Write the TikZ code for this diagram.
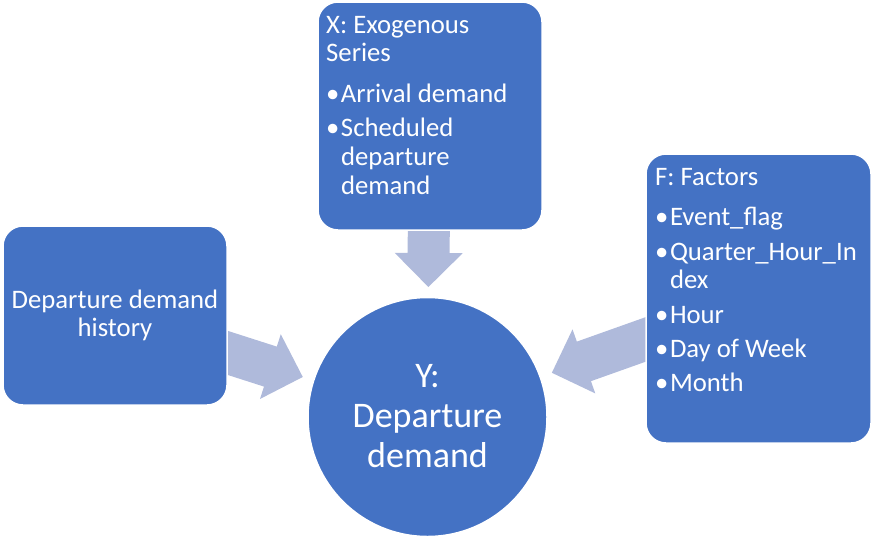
\documentclass[tikz,border=0pt]{standalone}
\usepackage{fontspec}
\setmainfont{Carlito}
\usetikzlibrary{calc,backgrounds}
\definecolor{boxblue}{HTML}{4472C4}
\definecolor{arrowblue}{HTML}{AFBADB}
\newcommand\bul{•\hspace{1.5pt}}
\newcommand\hang{\phantom{\bul}}
\newcommand\blockarrow[2]{%
  \coordinate (#2b) at ($(#2)!34pt!(#1)$);
  \fill[flowfill] ($(#1)!21pt!90:(#2)$) -- ($(#2b)!21pt!90:(#2)$) -- ($(#2b)!34pt!90:(#2)$)
    -- (#2) -- ($(#2b)!34pt!-90:(#2)$) -- ($(#2b)!21pt!-90:(#2)$) -- ($(#1)!21pt!-90:(#2)$) -- cycle;}
\begin{document}
\begin{tikzpicture}[x=1pt,y=-1pt,
  panel/.style={fill=boxblue, draw=white, line width=1.5pt, rounded corners=20pt, inner sep=0pt},
  txt/.style={text=white, inner sep=0pt, anchor=base west, font=\fontsize{26.7}{28.8}\selectfont},
  flowfill/.style={fill=arrowblue}]
\useasboundingbox (0,0) rectangle (872,536);
% boxes
\node[panel, minimum width=224pt, minimum height=228pt] (X) at (430,116) {};
\node[panel, minimum width=224pt, minimum height=179pt] (H) at (115,315.5) {};
\node[panel, minimum width=225pt, minimum height=289pt] (F) at (758.5,298.5) {};
\node[circle, fill=boxblue, draw=white, line width=1.5pt, minimum size=239pt, inner sep=0pt] (Y) at (427.5,417) {};
% texts
\node[txt] (Xt) at (326,33) {\begin{tabular}[t]{@{}l@{}}X: Exogenous\\Series\\[12pt]\bul Arrival demand\\[5.5pt]\bul Scheduled\\\hang departure\\\hang demand\end{tabular}};
\node[txt] (Ft) at (655,185) {\begin{tabular}[t]{@{}l@{}}F: Factors\\[12pt]\bul Event\_flag\\[5.5pt]\bul Quarter\_Hour\_In\\\hang dex\\[5.5pt]\bul Hour\\[5.5pt]\bul Day of Week\\[5.5pt]\bul Month\end{tabular}};
\node[txt, anchor=base] (Ht) at (115,308) {\begin{tabular}[t]{@{}c@{}}Departure demand\\history\end{tabular}};
\node[txt, anchor=base, font=\fontsize{36}{40}\selectfont] (Yt) at (427.5,387) {\begin{tabular}[t]{@{}c@{}}Y:\\Departure\\demand\end{tabular}};
% arrows
\begin{pgfonlayer}{background}
\coordinate (xs) at (429,200);
\coordinate (ls) at (200,344);
\coordinate (rs) at (680,327.2);
\coordinate (xt) at ($(Y.center)!130pt!(xs)$);
\coordinate (lt) at ($(Y.center)!131pt!(ls)$);
\coordinate (rt) at ($(Y.center)!132pt!(rs)$);
\blockarrow{xs}{xt}
\blockarrow{ls}{lt}
\blockarrow{rs}{rt}
\end{pgfonlayer}
\end{tikzpicture}
\end{document}
